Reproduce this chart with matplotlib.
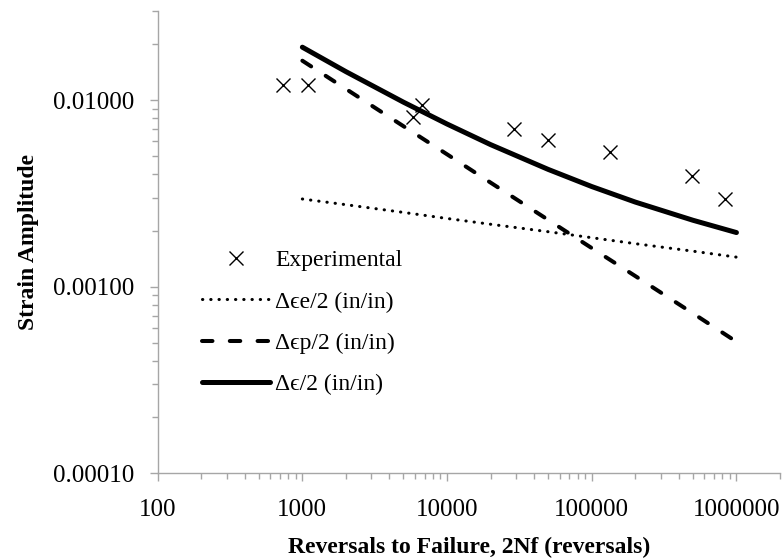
import matplotlib
matplotlib.use("Agg")
import matplotlib.pyplot as plt
from matplotlib.ticker import LogLocator, FixedFormatter, FixedLocator, NullFormatter

plt.rcParams['font.family'] = ['Liberation Serif', 'DejaVu Serif']

# experimental points (reversals, strain amplitude)
exp_rev = [740, 1100, 5860, 6700, 28800, 50200, 132700, 493000, 828000]
exp_strain = [0.0120, 0.0120, 0.00814, 0.0094, 0.00697, 0.00611, 0.00525, 0.00392, 0.00295]

# fitted curves
fit_rev = [1000, 2000, 5000, 10000, 20000, 50000, 100000, 200000, 500000, 1000000]
elastic = [0.00295, 0.00275, 0.00250, 0.00232, 0.00216, 0.00197, 0.00183, 0.00170, 0.00155, 0.00144]
plastic = [0.01625, 0.01147, 0.00724, 0.00512, 0.00361, 0.00228, 0.00161, 0.00114, 0.00072, 0.000507]
total = [0.0192, 0.0142, 0.00974, 0.00744, 0.00577, 0.00425, 0.00344, 0.00284, 0.00227, 0.00195]

x_ticks = [100, 1000, 10000, 100000, 1000000]
x_labels = ['100', '1000', '10000', '100000', '1000000']
y_ticks = [0.0001, 0.001, 0.01]
y_labels = ['0.00010', '0.00100', '0.01000']

axis_grey = '#a6a6a6'

fig = plt.figure(figsize=(7.84, 5.59), dpi=100)
ax = fig.add_axes([0.2011, 0.1533, 0.7938, 0.8270])

ax.plot(exp_rev, exp_strain, linestyle='none', marker='x', color='black',
        markersize=10, markeredgewidth=1.0, label='Experimental')
ax.plot(fit_rev, elastic, color='black', linewidth=2.2, dashes=(0.1, 2.6),
        dash_capstyle='round', label='Δϵe/2 (in/in)')
ax.plot(fit_rev, plastic, color='black', linewidth=2.9, dashes=(2.6, 4.3),
        dash_capstyle='round', label='Δϵp/2 (in/in)')
ax.plot(fit_rev, total, color='black', linewidth=3.6, solid_capstyle='round',
        label='Δϵ/2 (in/in)')

ax.set_xscale('log')
ax.set_yscale('log')
ax.set_xlim(100, 2.0e6)
ax.set_ylim(0.0001, 0.03)

ax.xaxis.set_major_locator(FixedLocator(x_ticks))
ax.xaxis.set_major_formatter(FixedFormatter(x_labels))
ax.yaxis.set_major_locator(FixedLocator(y_ticks))
ax.yaxis.set_major_formatter(FixedFormatter(y_labels))
ax.xaxis.set_minor_locator(LogLocator(base=10, subs=range(2, 10)))
ax.yaxis.set_minor_locator(LogLocator(base=10, subs=range(2, 10)))
ax.xaxis.set_minor_formatter(NullFormatter())
ax.yaxis.set_minor_formatter(NullFormatter())

ax.tick_params(which='major', direction='out', length=5.8, width=1.0,
               color=axis_grey, labelsize=18)
ax.tick_params(which='minor', direction='out', length=4.3, width=1.0,
               color=axis_grey)
ax.tick_params(axis='x', which='major', pad=13)
ax.tick_params(axis='y', which='major', pad=11)

for side in ['top', 'right']:
    ax.spines[side].set_visible(False)
for side in ['left', 'bottom']:
    ax.spines[side].set_color(axis_grey)
    ax.spines[side].set_linewidth(1.0)

ax.set_xlabel('Reversals to Failure, 2Nf (reversals)', fontsize=17,
              fontweight='bold', labelpad=11)
ax.set_ylabel('Strain Amplitude', fontsize=17, fontweight='bold', labelpad=10)

ax.legend(loc='upper left', bbox_to_anchor=(0.056, 0.504), frameon=False,
          fontsize=17, handlelength=2.9, handletextpad=0.2, labelspacing=0.84,
          borderaxespad=0)

fig.savefig('out.png', dpi=100)
